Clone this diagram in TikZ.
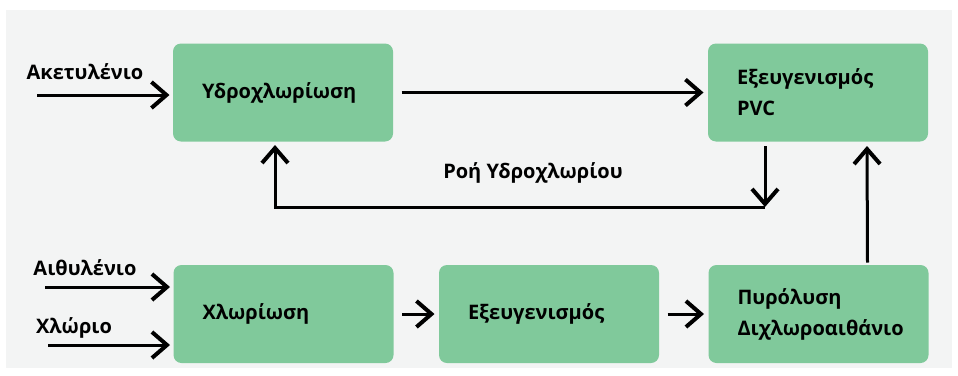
\documentclass[tikz,border=0pt]{standalone}
\usepackage{fontspec}
\setmainfont{Open Sans}
\usetikzlibrary{arrows.meta}
\definecolor{boxgreen}{HTML}{80C99B}
\definecolor{bggray}{HTML}{F3F4F4}

\begin{document}
\begin{tikzpicture}[x=1pt,y=-1pt,>={Straight Barb[length=15pt,width=26pt,line width=4pt]},line width=3pt,
                    every node/.style={font=\fontsize{20pt}{31pt}\selectfont\bfseries},
                    proc node/.style={fill=boxgreen,rounded corners=8pt,minimum height=98pt,
                                      text width=162pt,inner xsep=29pt,align=left}]

  \useasboundingbox (0,0) rectangle (958,375);
  \fill[bggray] (6,10) rectangle (952,368);

  \node[proc node] (hcl) at (283,92.5) {Υδροχλωρίωση};
  \node[proc node] (pvc) at (818,92.5) {Εξευγενισμός\\PVC};
  \node[proc node] (chl) at (283.5,314) {Χλωρίωση};
  \node[proc node] (exe) at (549,314) {Εξευγενισμός};
  \node[proc node] (pyr) at (818.5,314) {Πυρόλυση\\Διχλωροαιθάνιο};

  \node (acet) at (85,72) {Ακετυλένιο};
  \node (ethy) at (85,268) {Αιθυλένιο};
  \node (chlo) at (74,328) {Χλώριο};
  \node (flow) at (533,173) {Ροή Υδροχλωρίου};

  \coordinate (acet in) at (37,95);
  \coordinate (ethy in) at (45,287);
  \coordinate (chlo in) at (48,345);
  \coordinate (fb right) at (765,207);
  \coordinate (fb left) at (275,207);

  \draw[->,shorten >=2pt] (acet in) -- (acet in -| hcl.west);
  \draw[->,shorten >=2pt] (ethy in) -- (ethy in -| chl.west);
  \draw[->,shorten >=2pt] (chlo in) -- (chlo in -| chl.west);
  \path[every edge/.style={draw,->,shorten <=7pt,shorten >=3pt}]
    (hcl) edge (pvc)
    (chl) edge (exe)
    (exe) edge (pyr);
  \draw[->,shorten <=3pt] (pvc.south -| fb right) -- (fb right);
  \draw[->,shorten >=2pt] (fb right) -- (fb left) -- (fb left |- hcl.south);
  \draw[->,shorten <=1pt,shorten >=3pt] ([xshift=49pt]pyr.north) -- ([xshift=49pt]pvc.south);
\end{tikzpicture}
\end{document}
